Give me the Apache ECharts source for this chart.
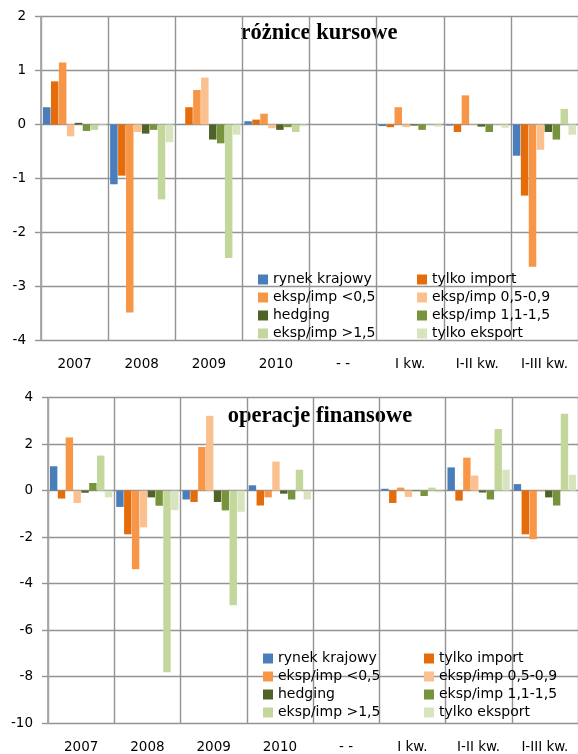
<!DOCTYPE html>
<html><head><meta charset="utf-8">
<script src="https://cdn.jsdelivr.net/npm/echarts@6/dist/echarts.min.js"></script>
<style>html,body{margin:0;padding:0;background:#fff}#c{width:578px;height:754px}</style>
</head><body><div id="c"></div>
<script>
const categories = ['2007','2008','2009','2010','- -','I kw.','I-II kw.','I-III kw.'];
const seriesNames = ['rynek krajowy','tylko import','eksp/imp <0,5','eksp/imp 0,5-0,9','hedging','eksp/imp 1,1-1,5','eksp/imp >1,5','tylko eksport'];
const seriesColors = ['#4A7EBB','#E46C0A','#F79646','#FAC090','#4F6228','#77933C','#C3D69B','#D7E4BD'];
const titleTop = 'różnice kursowe';
const titleBottom = 'operacje finansowe';

// różnice kursowe
const rynekKrajowyK = [0.32, -1.11, 0.01, 0.06, null, -0.03, -0.02, -0.58];
const tylkoImportK  = [0.80, -0.95, 0.32, 0.09, null, -0.05, -0.14, -1.32];
const ekspImpLt05K  = [1.15, -3.49, 0.64, 0.20, null, 0.32, 0.54, -2.64];
const ekspImp0509K  = [-0.22, -0.14, 0.87, -0.07, null, -0.05, 0.01, -0.47];
const hedgingK      = [0.03, -0.17, -0.28, -0.10, null, -0.02, -0.04, -0.14];
const ekspImp1115K  = [-0.12, -0.10, -0.35, -0.05, null, -0.10, -0.14, -0.28];
const ekspImpGt15K  = [-0.10, -1.39, -2.48, -0.14, null, 0.01, -0.01, 0.29];
const tylkoEksportK = [-0.02, -0.33, -0.19, -0.03, null, -0.04, -0.06, -0.19];

// operacje finansowe
const rynekKrajowyF = [1.05, -0.70, -0.38, 0.23, null, 0.08, 1.00, 0.28];
const tylkoImportF  = [-0.34, -1.88, -0.49, -0.64, null, -0.53, -0.43, -1.88];
const ekspImpLt05F  = [2.29, -3.38, 1.88, -0.29, null, 0.13, 1.42, -2.09];
const ekspImp0509F  = [-0.53, -1.58, 3.22, 1.25, null, -0.27, 0.65, -0.04];
const hedgingF      = [-0.09, -0.29, -0.49, -0.13, null, -0.02, -0.08, -0.29];
const ekspImp1115F  = [0.33, -0.65, -0.85, -0.38, null, -0.23, -0.38, -0.64];
const ekspImpGt15F  = [1.51, -7.82, -4.93, 0.90, null, 0.13, 2.65, 3.31];
const tylkoEksportF = [-0.29, -0.84, -0.91, -0.38, null, -0.07, 0.90, 0.68];

const topData = [rynekKrajowyK, tylkoImportK, ekspImpLt05K, ekspImp0509K, hedgingK, ekspImp1115K, ekspImpGt15K, tylkoEksportK];
const bottomData = [rynekKrajowyF, tylkoImportF, ekspImpLt05F, ekspImp0509F, hedgingF, ekspImp1115F, ekspImpGt15F, tylkoEksportF];

const FONT = 'DejaVu Sans';
const GRID = '#939393';

function xAxis(gi, margin){
  return {type:'category', gridIndex:gi, data:categories, boundaryGap:true,
    axisLine:{show:false, onZero:false}, axisTick:{show:false},
    splitLine:{show:true, interval:0, lineStyle:{color:GRID, width:1.4}},
    axisLabel:{interval:0, color:'#000', fontFamily:FONT, fontSize:13.5, margin:margin}};
}
function yAxis(gi, min, max, interval){
  return {type:'value', gridIndex:gi, min:min, max:max, interval:interval,
    axisLine:{show:true, lineStyle:{color:'#a6a6a6', width:1.8}},
    axisTick:{show:true, length:6, lineStyle:{color:GRID, width:1.4}},
    splitLine:{show:true, lineStyle:{color:GRID, width:1.4}},
    axisLabel:{color:'#000', fontFamily:FONT, fontSize:13.5, margin:15}};
}
const series = [];
[topData, bottomData].forEach((d, gi) => {
  d.forEach((vals, i) => {
    series.push({type:'bar', name:seriesNames[i], xAxisIndex:gi, yAxisIndex:gi,
      data:vals, barGap:'6%', barCategoryGap:'6%',
      itemStyle:{color:seriesColors[i]}, silent:true, animation:false});
  });
});
function legend(names, left, top){
  return {orient:'vertical', left:left, top:top, data:names, selectedMode:false,
    itemWidth:10, itemHeight:10, itemGap:3, icon:'rect', padding:0,
    textStyle:{color:'#000', fontFamily:FONT, fontSize:14, lineHeight:15, padding:[0,0,0,0]}};
}
const col1 = [seriesNames[0], seriesNames[2], seriesNames[4], seriesNames[6]];
const col2 = [seriesNames[1], seriesNames[3], seriesNames[5], seriesNames[7]];

const chart = echarts.init(document.getElementById('c'), null, {renderer:'canvas'});
chart.setOption({
  animation:false,
  backgroundColor:'#fff',
  grid:[
    {left:41, top:16.7, width:539.4, height:323.3},
    {left:48, top:397.7, width:534, height:325.6}
  ],
  xAxis:[xAxis(0, 17), xAxis(1, 17)],
  yAxis:[yAxis(0,-4,2,1), yAxis(1,-10,4,2)],
  legend:[legend(col1, 258, 272), legend(col2, 417, 272), legend(col1, 263, 651), legend(col2, 424, 651)],
  graphic:[
    {type:'text', x:319, y:33, style:{text:titleTop, font:'bold 22.5px "Liberation Serif"', fill:'#000', textAlign:'center', textVerticalAlign:'middle'}},
    {type:'text', x:320, y:416, style:{text:titleBottom, font:'bold 22.5px "Liberation Serif"', fill:'#000', textAlign:'center', textVerticalAlign:'middle'}}
  ],
  series:series
});
</script></body></html>
